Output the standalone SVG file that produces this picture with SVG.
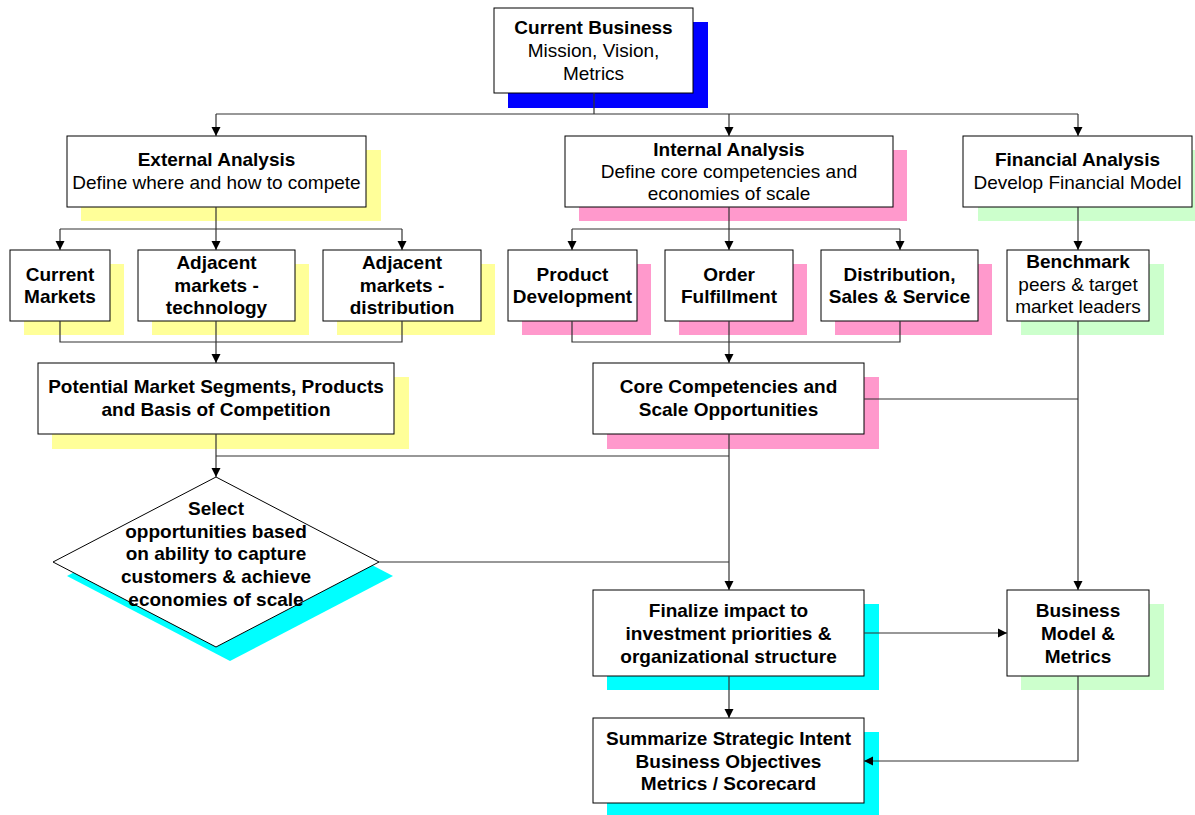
<svg xmlns="http://www.w3.org/2000/svg" width="1195" height="815" viewBox="0 0 1195 815">
<defs>
<style>
.box{fill:#fff;stroke:#000;stroke-width:1}
.sy{fill:#ffff99}.sp{fill:#ff99cc}.sg{fill:#ccffcc}.sc{fill:#00ffff}.sb{fill:#0000ff}
text{font-family:"Liberation Sans",Arial,sans-serif;font-size:19px;text-anchor:middle;fill:#000}
.b{font-weight:bold}
.c{fill:none;stroke:#333;stroke-width:1.2}
</style>
<marker id="ah" markerUnits="userSpaceOnUse" markerWidth="10" markerHeight="10" refX="9" refY="5" orient="auto">
<path d="M0,0.5 L9,5 L0,9.5 Z" fill="#000"/>
</marker>
</defs>
<rect width="1195" height="815" fill="#fff"/>

<g id="current-business">
<rect class="sb" x="508" y="22" width="200" height="86"/>
<rect class="box" x="494" y="8" width="199" height="85"/>
<text x="593.5" y="34" class="b">Current Business</text>
<text x="593.5" y="57">Mission, Vision,</text>
<text x="593.5" y="80">Metrics</text>
</g>

<g id="external-analysis">
<rect class="sy" x="81" y="150" width="300" height="71"/>
<rect class="box" x="67" y="136" width="299" height="71"/>
<text x="216.5" y="166" class="b">External Analysis</text>
<text x="216.5" y="189">Define where and how to compete</text>
</g>

<g id="internal-analysis">
<rect class="sp" x="579" y="150" width="328" height="71"/>
<rect class="box" x="565" y="136" width="328" height="71"/>
<text x="729" y="156" class="b">Internal Analysis</text>
<text x="729" y="178">Define core competencies and</text>
<text x="729" y="200">economies of scale</text>
</g>

<g id="financial-analysis">
<rect class="sg" x="978" y="150" width="217" height="71"/>
<rect class="box" x="963" y="136" width="229" height="71"/>
<text x="1077.5" y="166" class="b">Financial Analysis</text>
<text x="1077.5" y="189">Develop Financial Model</text>
</g>

<g id="current-markets">
<rect class="sy" x="24" y="264" width="100" height="71"/>
<rect class="box" x="10" y="250" width="100" height="71"/>
<text x="60" y="281" class="b">Current</text>
<text x="60" y="303" class="b">Markets</text>
</g>

<g id="adjacent-technology">
<rect class="sy" x="152" y="264" width="157" height="71"/>
<rect class="box" x="138" y="250" width="157" height="71"/>
<text x="216.5" y="269" class="b">Adjacent</text>
<text x="216.5" y="292" class="b">markets -</text>
<text x="216.5" y="314" class="b">technology</text>
</g>

<g id="adjacent-distribution">
<rect class="sy" x="337" y="264" width="158" height="71"/>
<rect class="box" x="323" y="250" width="158" height="71"/>
<text x="402" y="269" class="b">Adjacent</text>
<text x="402" y="292" class="b">markets -</text>
<text x="402" y="314" class="b">distribution</text>
</g>

<g id="product-development">
<rect class="sp" x="522" y="264" width="129" height="71"/>
<rect class="box" x="508" y="250" width="129" height="71"/>
<text x="572.5" y="281" class="b">Product</text>
<text x="572.5" y="303" class="b">Development</text>
</g>

<g id="order-fulfillment">
<rect class="sp" x="679" y="264" width="128" height="71"/>
<rect class="box" x="665" y="250" width="128" height="71"/>
<text x="729" y="281" class="b">Order</text>
<text x="729" y="303" class="b">Fulfillment</text>
</g>

<g id="distribution-sales-service">
<rect class="sp" x="835" y="264" width="157" height="71"/>
<rect class="box" x="821" y="250" width="157" height="71"/>
<text x="899.5" y="281" class="b">Distribution,</text>
<text x="899.5" y="303" class="b">Sales &amp; Service</text>
</g>

<g id="benchmark">
<rect class="sg" x="1021" y="264" width="143" height="71"/>
<rect class="box" x="1007" y="250" width="142" height="71"/>
<text x="1078" y="268" class="b">Benchmark</text>
<text x="1078" y="291">peers &amp; target</text>
<text x="1078" y="313">market leaders</text>
</g>

<g id="potential-market-segments">
<rect class="sy" x="52" y="377" width="357" height="72"/>
<rect class="box" x="38" y="363" width="356" height="71"/>
<text x="216" y="393" class="b">Potential Market Segments, Products</text>
<text x="216" y="416" class="b">and Basis of Competition</text>
</g>

<g id="core-competencies">
<rect class="sp" x="607" y="377" width="272" height="72"/>
<rect class="box" x="593" y="363" width="271" height="71"/>
<text x="728.5" y="393" class="b">Core Competencies and</text>
<text x="728.5" y="416" class="b">Scale Opportunities</text>
</g>

<g id="select-opportunities">
<polygon class="sc" points="230,491 393,576 230,661 67,576"/>
<polygon class="box" points="216,477 379,562 216,647 53,562"/>
<text x="216" y="515" class="b">Select</text>
<text x="216" y="538" class="b">opportunities based</text>
<text x="216" y="560" class="b">on ability to capture</text>
<text x="216" y="583" class="b">customers &amp; achieve</text>
<text x="216" y="606" class="b">economies of scale</text>
</g>

<g id="finalize-impact">
<rect class="sc" x="607" y="604" width="272" height="86"/>
<rect class="box" x="593" y="590" width="271" height="86"/>
<text x="728.5" y="617" class="b">Finalize impact to</text>
<text x="728.5" y="640" class="b">investment priorities &amp;</text>
<text x="728.5" y="663" class="b">organizational structure</text>
</g>

<g id="business-model">
<rect class="sg" x="1021" y="604" width="143" height="86"/>
<rect class="box" x="1007" y="590" width="142" height="86"/>
<text x="1078" y="617" class="b">Business</text>
<text x="1078" y="640" class="b">Model &amp;</text>
<text x="1078" y="663" class="b">Metrics</text>
</g>

<g id="summarize-strategic-intent">
<rect class="sc" x="607" y="732" width="272" height="86"/>
<rect class="box" x="593" y="718" width="271" height="85"/>
<text x="728.5" y="745" class="b">Summarize Strategic Intent</text>
<text x="728.5" y="768" class="b">Business Objectives</text>
<text x="728.5" y="790" class="b">Metrics / Scorecard</text>
</g>

<g id="connectors">
<path class="c" d="M594,93 V114"/>
<path class="c" d="M216,114 H1078"/>
<path class="c" d="M216,114 V136" marker-end="url(#ah)"/>
<path class="c" d="M729,114 V136" marker-end="url(#ah)"/>
<path class="c" d="M1078,114 V136" marker-end="url(#ah)"/>

<path class="c" d="M216,207 V250" marker-end="url(#ah)"/>
<path class="c" d="M60,229 H402"/>
<path class="c" d="M60,229 V250" marker-end="url(#ah)"/>
<path class="c" d="M402,229 V250" marker-end="url(#ah)"/>

<path class="c" d="M729,207 V250" marker-end="url(#ah)"/>
<path class="c" d="M572,229 H900"/>
<path class="c" d="M572,229 V250" marker-end="url(#ah)"/>
<path class="c" d="M900,229 V250" marker-end="url(#ah)"/>

<path class="c" d="M1078,207 V250" marker-end="url(#ah)"/>

<path class="c" d="M60,321 V342 H402 V321"/>
<path class="c" d="M216,321 V363" marker-end="url(#ah)"/>
<path class="c" d="M572,321 V342 H900 V321"/>
<path class="c" d="M729,321 V363" marker-end="url(#ah)"/>

<path class="c" d="M216,434 V477" marker-end="url(#ah)"/>
<path class="c" d="M216,456 H729"/>
<path class="c" d="M729,434 V590" marker-end="url(#ah)"/>
<path class="c" d="M379,562 H729"/>

<path class="c" d="M864,399 H1078"/>
<path class="c" d="M1078,321 V590" marker-end="url(#ah)"/>

<path class="c" d="M864,633 H1007" marker-end="url(#ah)"/>
<path class="c" d="M729,676 V718" marker-end="url(#ah)"/>
<path class="c" d="M1078,676 V761 H864" marker-end="url(#ah)"/>
</g>
</svg>
